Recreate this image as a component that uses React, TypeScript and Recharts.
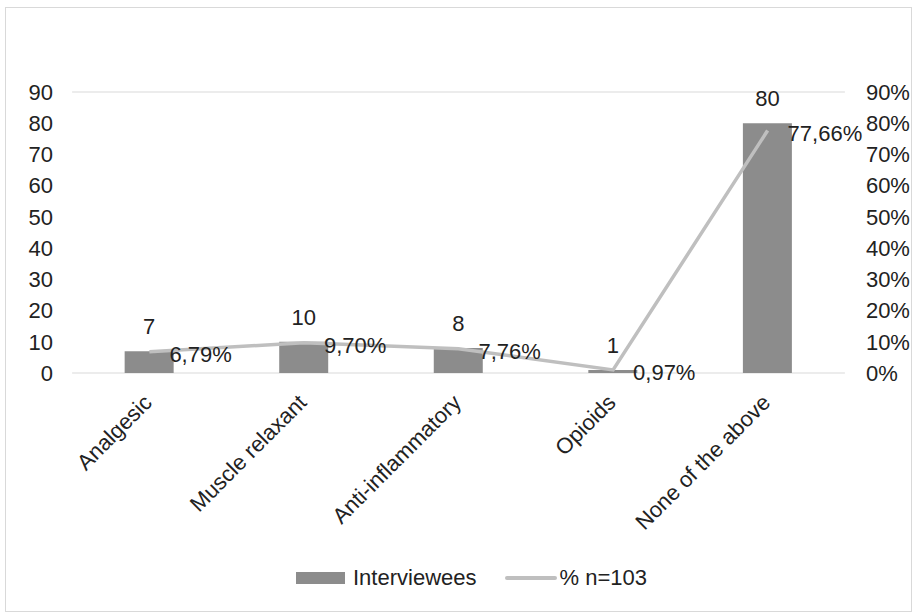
import React from 'react';
import { ComposedChart, Bar, Line, XAxis, YAxis, CartesianGrid, Legend, LabelList } from 'recharts';

const categories = ['Analgesic', 'Muscle relaxant', 'Anti-inflammatory', 'Opioids', 'None of the above'];
const interviewees = [7, 10, 8, 1, 80];
const percents = [6.79, 9.7, 7.76, 0.97, 77.66];
const leftTicks = [0, 10, 20, 30, 40, 50, 60, 70, 80, 90];
const rightTicks = [0, 10, 20, 30, 40, 50, 60, 70, 80, 90];

const data = categories.map((c, i) => ({ name: c, interviewees: interviewees[i], pct: percents[i] }));

const FONT = 'Liberation Sans, Arial, sans-serif';
const TXT = '#222222';
const FS = 22;

const fmtPct = (v: number) => v.toFixed(2).replace('.', ',') + '%';

const CatTick = (props: any) => {
  const { x, y, payload } = props;
  return (
    <g transform={`translate(${x - 1},${y + 18})`}>
      <text transform="rotate(-45)" textAnchor="end" fontSize={FS} fontFamily={FONT} fill={TXT} dy={7}>
        {payload.value}
      </text>
    </g>
  );
};

const PctLabel = (props: any) => {
  const { x, y, value } = props;
  return (
    <text x={x + 20} y={y + 10} fontSize={FS} fontFamily={FONT} fill={TXT} textAnchor="start">
      {fmtPct(value)}
    </text>
  );
};

export default function App() {
  return (
    <div style={{ position: 'absolute', left: 5, top: 7, width: 907, height: 605, border: '1px solid #d9d9d9', boxSizing: 'border-box', background: '#fff' }}>
      <ComposedChart width={905} height={603} data={data} margin={{ top: 84, right: 66, bottom: 0, left: 66 }} barCategoryGap="34%" style={{ overflow: 'visible' }}>
        <CartesianGrid vertical={false} stroke="#d9d9d9" />
        <XAxis dataKey="name" tick={<CatTick />} axisLine={false} tickLine={false} height={212} interval={0} />
        <YAxis yAxisId="left" domain={[0, 90]} ticks={leftTicks} interval={0} axisLine={false} tickLine={false} width={0.1}
          tick={{ fontSize: FS, fontFamily: FONT, fill: TXT, dx: -11 }} />
        <YAxis yAxisId="right" orientation="right" domain={[0, 90]} ticks={rightTicks} interval={0} axisLine={false} tickLine={false} width={0.1}
          tickFormatter={(v: number) => `${v}%`} tick={{ fontSize: FS, fontFamily: FONT, fill: TXT, dx: 13 }} />
        <Bar yAxisId="left" dataKey="interviewees" name="Interviewees" fill="#8c8c8c" isAnimationActive={false}>
          <LabelList dataKey="interviewees" position="top" offset={17} style={{ fontSize: FS, fontFamily: FONT, fill: TXT }} />
        </Bar>
        <Line yAxisId="right" dataKey="pct" name="% n=103" stroke="#bfbfbf" strokeWidth={3.5} dot={false} isAnimationActive={false}>
          <LabelList dataKey="pct" content={<PctLabel />} />
        </Line>
        <Legend verticalAlign="bottom" align="center"
          wrapperStyle={{ bottom: 20 }}
          content={() => (
            <div style={{ display: 'flex', justifyContent: 'center', alignItems: 'center', fontFamily: FONT, fontSize: FS, color: TXT, marginLeft: 26 }}>
              <span style={{ display: 'inline-block', width: 49, height: 12, background: '#8c8c8c', marginRight: 8 }} />
              <span>Interviewees</span>
              <span style={{ display: 'inline-block', width: 52, height: 4, background: '#bfbfbf', marginLeft: 28, marginRight: 3, borderRadius: 2 }} />
              <span>% n=103</span>
            </div>
          )} />
      </ComposedChart>
    </div>
  );
}
